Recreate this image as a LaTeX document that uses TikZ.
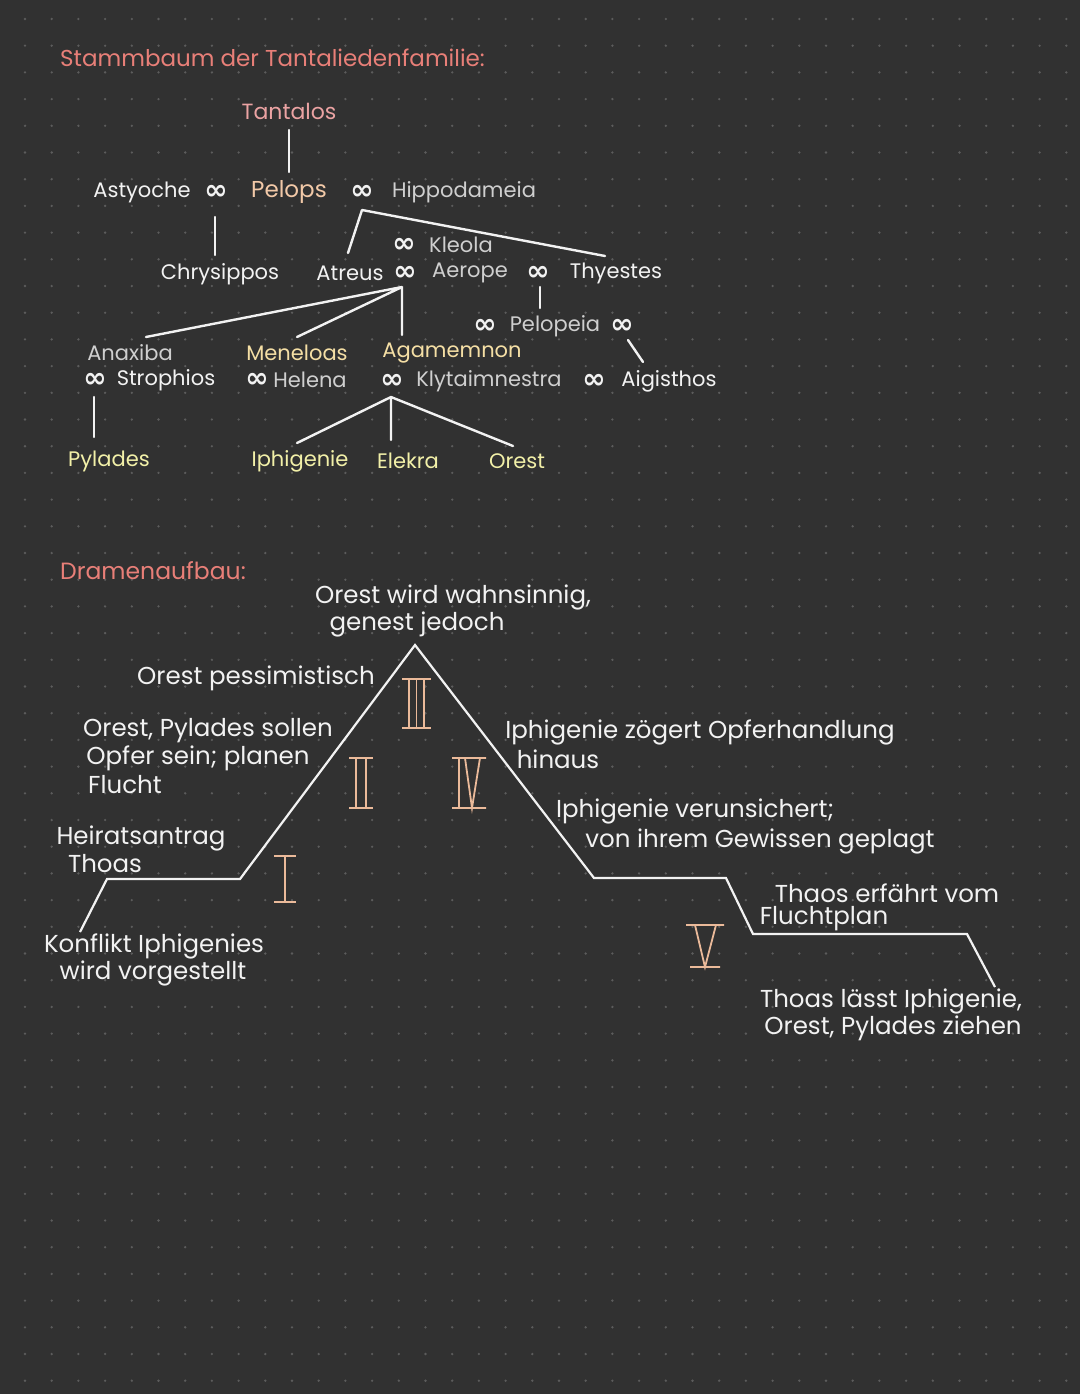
\documentclass[tikz,border=0pt]{standalone}
\usepackage{fontspec}
\setmainfont{Poppins}
\newfontfamily\dvs{DejaVu Sans}
\definecolor{bg}{HTML}{313131}
\definecolor{dotc}{HTML}{5C5C5C}
\definecolor{salmon}{HTML}{E87F78}
\definecolor{pinkt}{HTML}{EBA3A3}
\definecolor{peach}{HTML}{F2C9A8}
\definecolor{whitet}{HTML}{F2F2F2}
\definecolor{grayt}{HTML}{CFCFCF}
\definecolor{yellowt}{HTML}{F2F0A8}
\definecolor{goldt}{HTML}{F5DFA5}
\definecolor{romanc}{HTML}{EBBA9A}
\tikzset{
  tx/.style={inner sep=0pt, anchor=center, font=\fontsize{21}{24}\selectfont},
  dx/.style={inner sep=0pt, anchor=center, font=\fontsize{24.5}{28}\selectfont, text=whitet},
  wt/.style={tx, text=whitet},
  gy/.style={tx, text=grayt},
  ye/.style={tx, text=yellowt},
  gd/.style={tx, text=goldt},
  inf/.style={inner sep=0pt, anchor=center, text=whitet, font=\dvs\bfseries\fontsize{28}{30}\selectfont},
  ln/.style={draw=whitet, line width=2.4pt, line cap=round, line join=round},
  rn/.style={draw=romanc, line width=1.8pt, line cap=butt},
}
\begin{document}
\begin{tikzpicture}[x=1pt,y=-1pt]
\fill[bg] (0,0) rectangle (1080,1394);
\useasboundingbox (0,0) rectangle (1080,1394);
\foreach \i in {0,...,40}{\foreach \j in {0,...,52}{\fill[dotc] (25+26.7*\i,19+26.7*\j) circle (1.3);}}

% ---------- family tree ----------
\node[tx, anchor=west, text=salmon, font=\fontsize{23}{26}\selectfont] (title) at (60,58) {Stammbaum der Tantaliedenfamilie:};
\node[tx, text=pinkt, font=\fontsize{22}{24}\selectfont] (tantalos) at (289,111) {Tantalos};
\node[wt] (astyoche) at (142,192) {Astyoche};
\node[inf] (i1) at (216,192) {∞};
\node[tx, text=peach, font=\fontsize{23}{26}\selectfont] (pelops) at (289,192) {Pelops};
\node[inf] (i2) at (362,192) {∞};
\node[gy] (hippo) at (464,192) {Hippodameia};
\node[wt] (chrys) at (220,274) {Chrysippos};
\node[inf] (i3) at (404,245) {∞};
\node[gy] (kleola) at (461,245) {Kleola};
\node[wt] (atreus) at (350,273) {Atreus};
\node[inf] (i4) at (405,273) {∞};
\node[gy] (aerope) at (470,273) {Aerope};
\node[inf] (i5) at (538,273) {∞};
\node[wt] (thyestes) at (616,273) {Thyestes};
\node[inf] (i6) at (485,326) {∞};
\node[gy] (pelopeia) at (555,326) {Pelopeia};
\node[inf] (i7) at (622,326) {∞};
\node[gy] (anaxiba) at (130,353) {Anaxiba};
\node[inf] (i8) at (95,380) {∞};
\node[wt] (strophios) at (166,380) {Strophios};
\node[gd] (meneloas) at (297,353) {Meneloas};
\node[inf] (i9) at (257,380) {∞};
\node[gy] (helena) at (310,380) {Helena};
\node[gd] (agamemnon) at (452,353) {Agamemnon};
\node[inf] (i10) at (392,381) {∞};
\node[gy] (klyt) at (489,381) {Klytaimnestra};
\node[inf] (i11) at (594,381) {∞};
\node[wt] (aigisthos) at (669,381) {Aigisthos};
\node[ye] (pylades) at (109,461) {Pylades};
\node[ye] (iphigenie) at (300,461) {Iphigenie};
\node[ye] (elekra) at (408,461) {Elekra};
\node[ye] (orest) at (517,461) {Orest};

\coordinate (c1a) at (289,130); \coordinate (c1b) at (289,172);
\draw[ln] (c1a) -- (c1b);
\coordinate (c2a) at (215,217); \coordinate (c2b) at (215,255);
\draw[ln] (c2a) -- (c2b);
\coordinate (c3p) at (362,210); \coordinate (c3a) at (348,253); \coordinate (c3t) at (605,256);
\draw[ln] (c3a) -- (c3p) -- (c3t);
\coordinate (c4a) at (540,287); \coordinate (c4b) at (540,308);
\draw[ln] (c4a) -- (c4b);
\coordinate (c5a) at (628,340); \coordinate (c5b) at (643,362);
\draw[ln] (c5a) -- (c5b);
\coordinate (c6) at (402,287);
\coordinate (c6a) at (146,337); \coordinate (c6m) at (297,337); \coordinate (c6g) at (402,335);
\draw[ln] (c6) -- (c6a) (c6) -- (c6m) (c6) -- (c6g);
\coordinate (c7a) at (94,397); \coordinate (c7b) at (94,437);
\draw[ln] (c7a) -- (c7b);
\coordinate (c8) at (391,397);
\coordinate (c8i) at (297,443); \coordinate (c8e) at (391,440); \coordinate (c8o) at (513,446);
\draw[ln] (c8) -- (c8i) (c8) -- (c8e) (c8) -- (c8o);

% ---------- Dramenaufbau ----------
\node[tx, anchor=west, text=salmon, font=\fontsize{23.5}{26}\selectfont] (drama) at (60,571) {Dramenaufbau:};
\node[dx] (t1) at (453,597) {Orest wird wahnsinnig,};
\node[dx] (t2) at (417,624) {genest jedoch};
\node[dx] (t3) at (256,678) {Orest pessimistisch};
\node[dx] (t4) at (208,731) {Orest, Pylades sollen};
\node[dx] (t5) at (198,758) {Opfer sein; planen};
\node[dx] (t6) at (125,785) {Flucht};
\node[dx] (t7) at (141,838) {Heiratsantrag};
\node[dx] (t8) at (105,864) {Thoas};
\node[dx] (t9) at (154,946) {Konflikt Iphigenies};
\node[dx] (t10) at (153,973) {wird vorgestellt};
\node[dx] (t11) at (700,732) {Iphigenie zögert Opferhandlung};
\node[dx] (t12) at (558,759) {hinaus};
\node[dx] (t13) at (695,811) {Iphigenie verunsichert;};
\node[dx] (t14) at (760,841) {von ihrem Gewissen geplagt};
\node[dx] (t15) at (887,893) {Thaos erfährt vom};
\node[dx] (t16) at (824,919) {Fluchtplan};
\node[dx] (t17) at (891,1001) {Thoas lässt Iphigenie,};
\node[dx] (t18) at (893,1028) {Orest, Pylades ziehen};

\coordinate (p0) at (80,932);
\coordinate (p1) at (107,879);
\coordinate (p2) at (240,879);
\coordinate (p3) at (415,645);
\coordinate (p4) at (594,878);
\coordinate (p5) at (726,878);
\coordinate (p6) at (753,934);
\coordinate (p7) at (967,934);
\coordinate (p8) at (995,987);
\draw[ln, line width=2.2pt, line cap=butt, line join=miter] (p0) -- (p1) -- (p2) -- (p3) -- (p4) -- (p5) -- (p6) -- (p7) -- (p8);

% Roman numerals
% I
\draw[rn] (274,856) -- (296,856) (285,856) -- (285,902) (274,902) -- (296,902);
% II
\draw[rn] (349,758) -- (373,758) (356,758) -- (356,808) (366,758) -- (366,808) (349,808) -- (373,808);
% III
\draw[rn] (402,679) -- (431,679) (409,679) -- (409,728) (416.5,679) -- (416.5,728) (424,679) -- (424,728) (402,728) -- (431,728);
% IV
\draw[rn] (452,758) -- (486,758) (459,758) -- (459,808) (465,758) -- (472,808) -- (480,758) (452,808) -- (486,808);
% V
\draw[rn] (686,925) -- (724,925) (695,925) -- (705,967) -- (716,925) (690,967) -- (720,967);
\end{tikzpicture}
\end{document}
